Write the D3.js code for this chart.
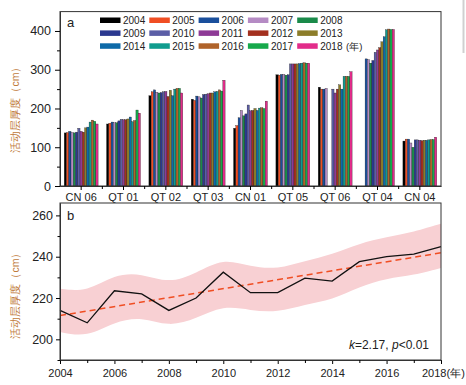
<!DOCTYPE html>
<html lang="zh">
<head>
<meta charset="UTF-8">
<title>活动层厚度</title>
<style>
  html, body { margin: 0; padding: 0; background: #fff; }
  svg { display: block; font-family: "Liberation Sans", Arial, sans-serif; }
</style>
</head>
<body>
<svg id="svg" width="466" height="385"></svg>
<script src="https://cdn.jsdelivr.net/npm/d3@7/dist/d3.min.js"></script>
<script>
// stations (panel a)
const sites = ['CN 06', 'QT 01', 'QT 02', 'QT 03', 'CN 01', 'QT 05', 'QT 06', 'QT 04', 'CN 04']
const years = [2004, 2005, 2006, 2007, 2008, 2009, 2010, 2011, 2012, 2013, 2014, 2015, 2016, 2017, 2018]
const yearColors = ['#000000', '#f04e23', '#1a4f9c', '#b58bc4', '#1a8a4a', '#2b3990', '#5b5ea6', '#8e3a96',
  '#a3301e', '#8c7d2a', '#0e6aa8', '#109c8e', '#b0632a', '#16a94b', '#e22c8a']

// active layer thickness per station, one value per year (null = no data)
const cn06 = [137, 138, 141, 138, 137, 139, 149, 141, 139, 150, 152, 165, 170, 167, 160]
const qt01 = [160, 162, 165, 163, 163, 168, 172, 171, 171, 173, 178, 166, 169, 196, 188]
const qt02 = [233, 243, 248, 242, 240, 241, 243, 244, 231, 247, 233, 250, 252, 252, 240]
const qt03 = [224, 221, 232, 230, 227, 236, 237, 238, 240, 240, 243, 244, 248, 245, 273]
const cn01 = [149, 156, 176, 195, 181, 186, 209, 194, 195, 200, 195, 201, 202, 200, 219]
const qt05 = [287, 286, 288, 288, 286, 287, 315, 315, 315, 315, 316, 317, 318, 317, 317]
const qt06 = [255, 250, 250, 252, null, null, 250, 240, 250, 261, 250, 283, 283, 283, 295]
const qt04 = [null, null, 328, 326, 317, 324, 345, 351, 357, 372, 385, 403, 405, 404, 404]
const cn04 = [116, 121, 121, 111, 100, 119, 119, 118, 117, 118, 118, 119, 120, 120, 126]
const siteValues = [cn06, qt01, qt02, qt03, cn01, qt05, qt06, qt04, cn04]

// panel b: mean thickness, trend, confidence band
const meanValues = [214, 208, 223.5, 222, 214, 220, 232.5, 222.6, 222.6, 229.6, 228.2, 237.6, 240, 241.2, 244.9]
const trendStart = 211.5
const trendSlope = 2.17
const bandUpper = [224.5, 223, 231.5, 232, 227, 232, 239.5, 235, 234, 238, 241, 246.5, 249.5, 252, 256]
const bandLower = [203.5, 201, 208.5, 211, 206, 210, 216.5, 214, 213, 217, 219, 225.5, 229.5, 231, 234.5]

const svg = d3.select('#svg')
const left = 60, right = 441
const labelColor = '#c07a3a'

// ---------- panel a ----------
const yA = d3.scaleLinear().domain([0, 450]).range([186, 11.6])
const xA = d3.scaleBand().domain(sites).range([left, right]).paddingInner(0.2).paddingOuter(0.1)
const xYear = d3.scaleBand().domain(years).range([0, xA.bandwidth()])
const color = d3.scaleOrdinal().domain(years).range(yearColors)

const bars = []
sites.forEach((s, i) => {
  siteValues[i].forEach((v, j) => {
    if (v !== null) bars.push({ site: s, year: years[j], value: v })
  })
})

svg.append('g')
  .selectAll('rect')
  .data(bars)
  .enter()
  .append('rect')
  .attr('x', d => xA(d.site) + xYear(d.year))
  .attr('y', d => yA(d.value))
  .attr('width', xYear.bandwidth())
  .attr('height', d => yA(0) - yA(d.value))
  .attr('fill', d => color(d.year))
  .attr('stroke', '#1a1a1a')
  .attr('stroke-width', 0.3)

svg.append('rect')
  .attr('x', left).attr('y', yA.range()[1])
  .attr('width', right - left).attr('height', yA(0) - yA.range()[1])
  .attr('fill', 'none').attr('stroke', '#333').attr('stroke-width', 1)

const axA = svg.append('g').attr('transform', `translate(${left},0)`)
  .call(d3.axisLeft(yA).tickValues([0, 100, 200, 300, 400]).tickSize(5).tickSizeOuter(0).tickPadding(4))
svg.append('g').attr('transform', `translate(${left},0)`)
  .call(d3.axisLeft(yA).tickValues([50, 150, 250, 350]).tickSize(3).tickSizeOuter(0).tickFormat(''))

svg.append('g').attr('transform', `translate(0,${yA(0)})`)
  .call(d3.axisBottom(xA).tickSize(4).tickSizeOuter(0).tickPadding(3))
// boundary ticks between stations
const step = xA.step()
svg.append('g').attr('transform', `translate(0,${yA(0)})`)
  .selectAll('line')
  .data(sites.slice(1))
  .enter()
  .append('line')
  .attr('x1', d => xA(d) - step * 0.1)
  .attr('x2', d => xA(d) - step * 0.1)
  .attr('y1', 0).attr('y2', 3)
  .attr('stroke', '#000')

// legend
const legend = svg.append('g')
years.forEach((yr, i) => {
  const col = i % 5, row = Math.floor(i / 5)
  const g = legend.append('g').attr('transform', `translate(${100 + col * 49.3},${17.5 + row * 12.9})`)
  g.append('rect').attr('width', 20.5).attr('height', 5.5).attr('fill', color(yr))
  g.append('text').attr('x', 23).attr('y', 6.5).text(yr)
    .style('font-size', '10px').attr('fill', '#222')
})
legend.append('text').attr('x', 346).attr('y', 17.5 + 2 * 12.9 + 6.5).text('(年)')
  .style('font-size', '9.5px').attr('fill', '#222')

svg.append('text').attr('x', 67).attr('y', 27).text('a').style('font-size', '13px').attr('fill', '#222')

svg.append('text')
  .attr('transform', `translate(19,107) rotate(-90)`)
  .attr('text-anchor', 'middle')
  .attr('fill', labelColor)
  .style('font-size', '10.5px')
  .text('活动层厚度（cm）')

// ---------- panel b ----------
const xB = d3.scaleLinear().domain([2004, 2018]).range([left, right])
const yB = d3.scaleLinear().domain([190, 266]).range([360, 203])

const bandData = years.map((yr, i) => ({ year: yr, lo: bandLower[i], hi: bandUpper[i] }))
svg.append('path')
  .datum(bandData)
  .attr('fill', '#f8d0d3')
  .attr('d', d3.area().curve(d3.curveBasis)
    .x(d => xB(d.year)).y0(d => yB(d.lo)).y1(d => yB(d.hi)))

svg.append('line')
  .attr('x1', xB(2004)).attr('y1', yB(trendStart))
  .attr('x2', xB(2018)).attr('y2', yB(trendStart + trendSlope * 14))
  .attr('stroke', '#f04e23').attr('stroke-width', 1.5)
  .attr('stroke-dasharray', '6,4')

svg.append('path')
  .datum(years.map((yr, i) => ({ year: yr, value: meanValues[i] })))
  .attr('fill', 'none').attr('stroke', '#111').attr('stroke-width', 1.3)
  .attr('d', d3.line().x(d => xB(d.year)).y(d => yB(d.value)))

svg.append('rect')
  .attr('x', left).attr('y', 203)
  .attr('width', right - left).attr('height', 157)
  .attr('fill', 'none').attr('stroke', '#333').attr('stroke-width', 1)

const ayB = svg.append('g').attr('transform', `translate(${left},0)`)
  .call(d3.axisLeft(yB).tickValues([200, 220, 240, 260]).tickSize(4).tickSizeOuter(0).tickPadding(3))
svg.append('g').attr('transform', `translate(${left},0)`)
  .call(d3.axisLeft(yB).tickValues([190, 210, 230, 250]).tickSize(2.5).tickSizeOuter(0).tickFormat(''))

const bxB = svg.append('g').attr('transform', `translate(0,360)`)
  .call(d3.axisBottom(xB).tickValues([2004, 2006, 2008, 2010, 2012, 2014, 2016, 2018])
    .tickFormat(d => d === 2018 ? '2018(年)' : d)
    .tickSize(4).tickSizeOuter(0).tickPadding(5))
bxB.selectAll('.tick text').filter(d => d === 2018).attr('text-anchor', 'start').attr('dx', -19.5)
svg.append('g').attr('transform', `translate(0,360)`)
  .call(d3.axisBottom(xB).tickValues([2005, 2007, 2009, 2011, 2013, 2015, 2017])
    .tickSize(3).tickSizeOuter(0).tickFormat(''))

svg.append('text').attr('x', 67).attr('y', 220).text('b').style('font-size', '13px').attr('fill', '#222')

const stat = svg.append('text').attr('x', 429).attr('y', 349).attr('text-anchor', 'end')
  .style('font-size', '12px').attr('fill', '#222')
stat.append('tspan').style('font-style', 'italic').text('k')
stat.append('tspan').text('=2.17, ')
stat.append('tspan').style('font-style', 'italic').text('p')
stat.append('tspan').text('<0.01')

svg.append('text')
  .attr('transform', `translate(19,293) rotate(-90)`)
  .attr('text-anchor', 'middle')
  .attr('fill', labelColor)
  .style('font-size', '10.5px')
  .text('活动层厚度（cm）')

// common axis styling
svg.selectAll('.tick text').attr('fill', '#222')
svg.selectAll('.tick text').style('font-size', '11px')
axA.selectAll('.tick text').style('font-size', '12.5px')
ayB.selectAll('.tick text').style('font-size', '12.5px')
svg.selectAll('.domain').attr('stroke', '#333')

// faint scan edge at right
svg.append('line').attr('x1', 463.5).attr('x2', 463.5).attr('y1', 0).attr('y2', 53)
  .attr('stroke', '#d0d0d0').attr('stroke-width', 2)
</script>
</body>
</html>
